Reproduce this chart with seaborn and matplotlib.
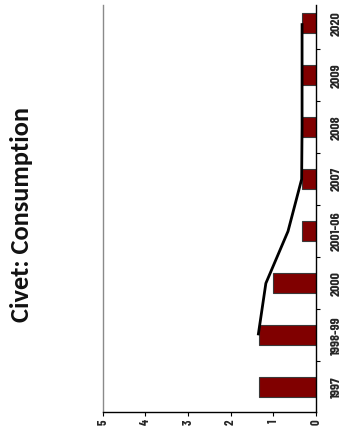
import matplotlib
matplotlib.use("Agg")
import matplotlib.pyplot as plt
import seaborn as sns
import numpy as np
import pandas as pd
from matplotlib.ticker import FixedLocator

# ---- data ----
categories = ["1997", "1998-99", "2000", "2001-06", "2007", "2008", "2009", "2020"]
consumption = [1.33, 1.33, 1.0, 0.33, 0.33, 0.33, 0.33, 0.33]
trend = [np.nan, 1.35, 1.17, 0.65, 0.33, 0.32, 0.32, 0.32]
value_ticks = [0, 1, 2, 3, 4, 5]
title = "Civet: Consumption"

sns.set_theme(style="white")
plt.rcParams["font.family"] = ["DejaVu Sans"]

NARROW = ["Barlow Condensed", "DejaVu Sans"]

W, H = 343, 434
fig = plt.figure(figsize=(W / 100, H / 100), dpi=100)
ax = fig.add_axes([102.7 / W, (H - 412.3) / H, (315.7 - 102.7) / W, (412.3 - 5) / H])

order = categories[::-1]  # 2020 at top (position 0), 1997 at bottom
df = pd.DataFrame({"cat": categories, "val": consumption})
sns.barplot(data=df, x="val", y="cat", order=order, orient="h", ax=ax,
            color="#800000", saturation=1, width=0.385,
            edgecolor="#3a3a3a", linewidth=0.8)

pos = {c: i for i, c in enumerate(order)}
ty = [pos[c] for c in categories]
ax.plot(trend, ty, color="black", lw=2.0, solid_capstyle="butt", zorder=5)

ax.set_xlim(5, 0)
ax.set_ylim(len(categories) - 0.52, -0.35)
ax.set_xlabel("")
ax.set_ylabel("")

# value axis (bottom)
ax.set_xticks(value_ticks)
ax.set_xticklabels([str(v) for v in value_ticks], rotation=90,
                   fontsize=9, fontweight="bold", family=NARROW)
ax.tick_params(axis="x", direction="out", length=3, width=0.8, color="black", pad=2, bottom=True)

# category axis (right)
ax.yaxis.tick_right()
ax.set_yticks(range(len(order)))
ax.set_yticklabels(order, rotation=90, va="center", fontsize=10, fontweight="bold",
                   family=NARROW)
ax.tick_params(axis="y", which="major", length=0, pad=11, right=True, left=False)
ax.yaxis.set_minor_locator(FixedLocator(np.arange(0.5, len(order) - 0.5, 1.0)))
ax.tick_params(axis="y", which="minor", direction="out", length=3, width=0.8,
               color="black", right=True, left=False)

ax.spines["top"].set_visible(False)
ax.spines["left"].set_color("#8a8a8a")
ax.spines["left"].set_linewidth(1.0)
ax.spines["right"].set_color("black")
ax.spines["right"].set_linewidth(1.0)
ax.spines["bottom"].set_color("black")
ax.spines["bottom"].set_linewidth(1.0)
ax.grid(False)

fig.text(21.7 / W, 1 - 215 / H, title, rotation=90, ha="center", va="center",
         fontsize=19, fontweight="bold", family=["Carlito", "DejaVu Sans"], color="#111111")

fig.savefig("out.png", dpi=100)
